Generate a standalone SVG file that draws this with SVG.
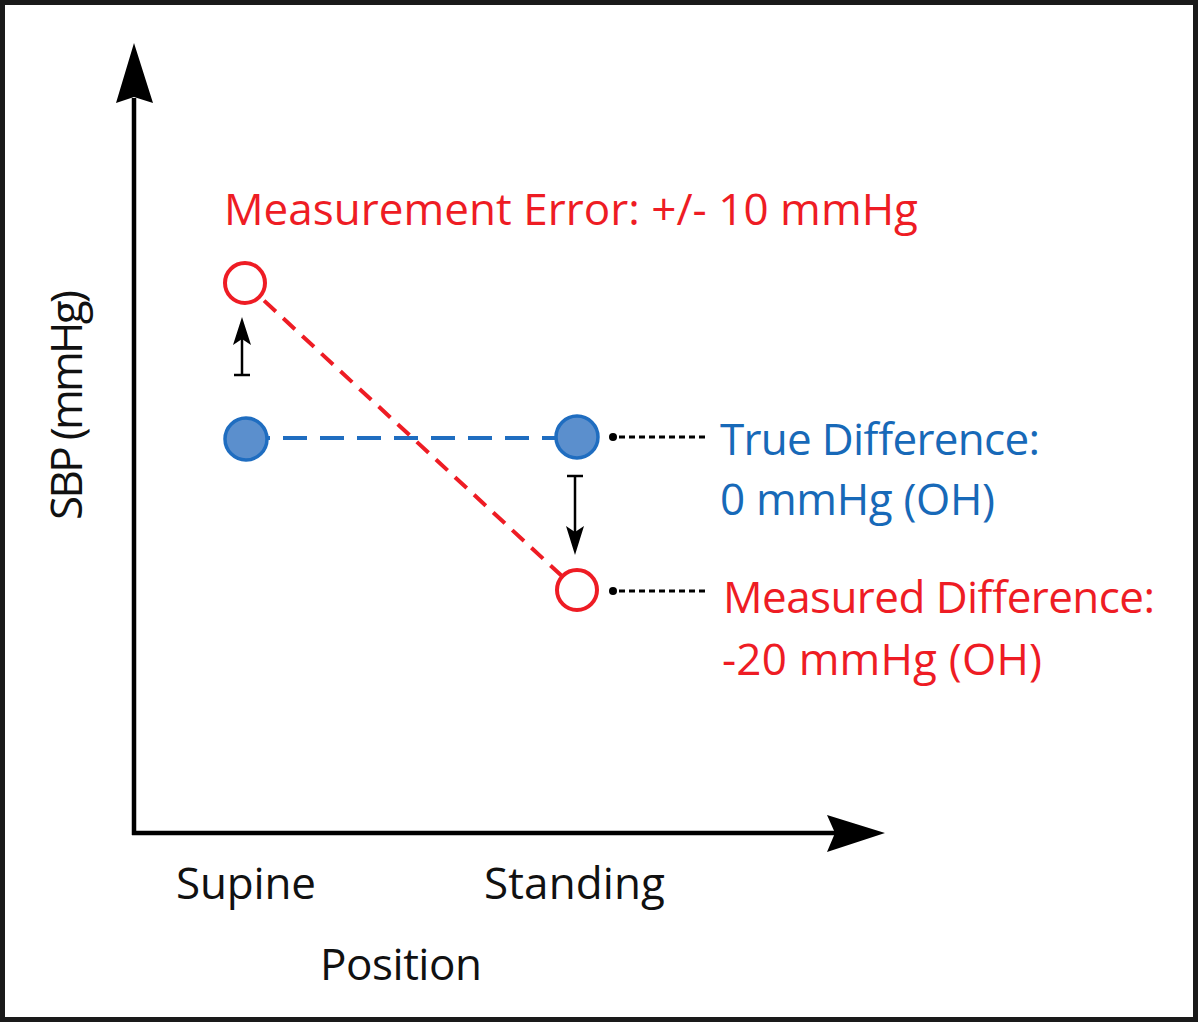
<svg xmlns="http://www.w3.org/2000/svg" width="1200" height="1025" viewBox="0 0 1200 1025">
  <style>
    .t { font-family: "Open Sans", "Liberation Sans", sans-serif; font-size: 44px; }
    .red { fill: #ee1c24; }
    .blue { fill: #1769b8; }
    .blk { fill: #111; }
    .axis { stroke: #000; stroke-width: 4.5; fill: none; }
    .head { fill: #000; }
    .small { stroke: #000; stroke-width: 2.5; fill: none; }
    .leader { stroke: #000; stroke-width: 3; stroke-dasharray: 6 4; fill: none; }
  </style>
  <rect x="0" y="0" width="1200" height="1025" fill="#fff"/>
  <rect x="2.5" y="2.5" width="1193" height="1017" fill="none" stroke="#1a1a1a" stroke-width="5"/>

  <g id="connectors">
    <line class="axis" x1="134" y1="835" x2="134" y2="98"/>
    <path class="head" d="M134,43 L153,103 L134,97 L116,103 Z"/>
    <line class="axis" x1="132" y1="833" x2="838" y2="833"/>
    <path class="head" d="M885,833 L827,852 L835,833 L827,815 Z"/>
    <line x1="245" y1="283" x2="577" y2="590" stroke="#ee1c24" stroke-width="4" stroke-dasharray="16 10"/>
    <line x1="246" y1="438" x2="577" y2="438" stroke="#1f6dc0" stroke-width="4" stroke-dasharray="24 13"/>
    <line class="small" x1="242" y1="375" x2="242" y2="330"/>
    <line class="small" x1="234" y1="375" x2="250" y2="375"/>
    <path class="head" d="M242,317 L251,345 L242,339 L233,345 Z"/>
    <line class="small" x1="575" y1="476" x2="575" y2="543"/>
    <line class="small" x1="567" y1="476" x2="583" y2="476"/>
    <path class="head" d="M575,555 L584,526 L575,532 L566,526 Z"/>
    <circle cx="613" cy="437" r="4" fill="#000"/>
    <line class="leader" x1="619" y1="437" x2="708" y2="437"/>
    <circle cx="613" cy="591" r="4" fill="#000"/>
    <line class="leader" x1="619" y1="591" x2="708" y2="591"/>
  </g>

  <g id="supine-measured">
    <circle cx="245" cy="283" r="20" fill="#fff" stroke="#ee1c24" stroke-width="4"/>
  </g>
  <g id="supine-true">
    <circle cx="246" cy="439" r="21" fill="#5b8fcd" stroke="#1f6dc0" stroke-width="3.5"/>
  </g>
  <g id="standing-true">
    <circle cx="577" cy="437" r="21" fill="#5b8fcd" stroke="#1f6dc0" stroke-width="3.5"/>
  </g>
  <g id="standing-measured">
    <circle cx="577" cy="590" r="20" fill="#fff" stroke="#ee1c24" stroke-width="4"/>
  </g>

  <g id="labels">
    <text class="t red" x="224" y="225" textLength="694">Measurement Error: +/- 10 mmHg</text>
    <text class="t blue" x="720" y="455" textLength="320">True Difference:</text>
    <text class="t blue" x="720" y="515" textLength="275">0 mmHg (OH)</text>
    <text class="t red" x="723" y="613" textLength="432">Measured Difference:</text>
    <text class="t red" x="722" y="675" textLength="320">-20 mmHg (OH)</text>
    <text class="t blk" x="176" y="899" textLength="140">Supine</text>
    <text class="t blk" x="484" y="899" textLength="181">Standing</text>
    <text class="t blk" x="320" y="980" textLength="162">Position</text>
    <text class="t blk" transform="translate(82,520) rotate(-90)" textLength="230">SBP (mmHg)</text>
  </g>
</svg>
